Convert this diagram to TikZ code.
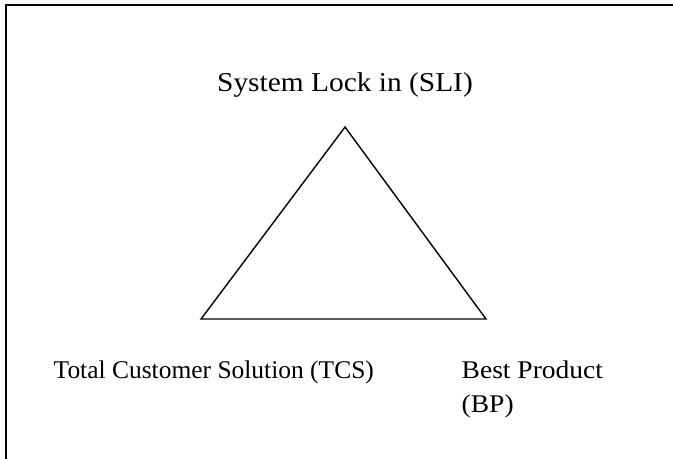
\documentclass[tikz,border=0pt]{standalone}
\usepackage{fontspec}
\setmainfont{Liberation Serif}
\newfontfamily\widefont[FakeStretch=1.08]{Liberation Serif}
\begin{document}
\begin{tikzpicture}[x=0.02cm, y=0.02cm, line join=miter, thick]
\useasboundingbox (0,0) rectangle (673,458);
\clip (0,0) rectangle (673,458);
% outer frame, only left and top edge show
\draw [line width=1.2pt] (6,-20) -- (6,453) -- (700,453);
   \begin{scope}[every node/.style={inner sep=0pt,font=\fontsize{14.5}{19}\selectfont}]
\coordinate(sli) at (345,331);
\coordinate(tcs) at (201,139);
\coordinate(bp) at (486,139);
\draw [line width=0.8pt] (sli)--(tcs)--(bp)--cycle;
\node [anchor=base, font=\widefont\fontsize{15.5}{19}\selectfont] (slitext) at (345,367) {System Lock in (SLI)};
\node [anchor=base west] (tcstext) at (53,80) {Total Customer Solution (TCS)};
\node [anchor=base west, align=left, font=\widefont\fontsize{14.5}{19}\selectfont] (bptext) at (461,46) {Best Product\\(BP)};
  \end{scope}
\end{tikzpicture}
\end{document}
